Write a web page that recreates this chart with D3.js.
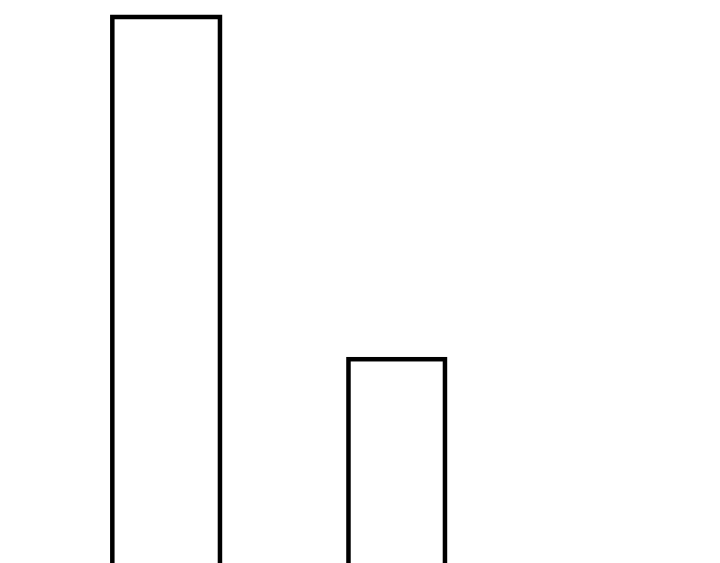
<!DOCTYPE html>
<html>
<head>
<meta charset="utf-8">
<script src="https://cdn.jsdelivr.net/npm/d3@7"></script>
<style>
  html, body { margin: 0; padding: 0; background: #fff; overflow: hidden; }
</style>
</head>
<body>
<svg id="chart" width="720" height="563"></svg>
<script>
// data
const categories = ["A", "B"];
const values = [10, 4.13];
const barStart = [15.6, 48.4];
const barEnd = [30.55, 61.8];

const width = 720, height = 563;

let x = d3.scaleLinear().domain([0, 100]).range([0, width]),
    y = d3.scaleLinear().domain([0, 10]).range([600, 17]);

const svg = d3.select("#chart");

svg.append("g")
    .selectAll("rect")
    .data(categories)
    .enter()
    .append("rect")
    .attr("x", (d, i) => x(barStart[i]))
    .attr("width", (d, i) => x(barEnd[i]) - x(barStart[i]))
    .attr("y", (d, i) => y(values[i]))
    .attr("height", (d, i) => y(0) - y(values[i]))
    .attr("fill", "none")
    .attr("stroke", "#000")
    .attr("stroke-width", 4.5);
</script>
</body>
</html>
